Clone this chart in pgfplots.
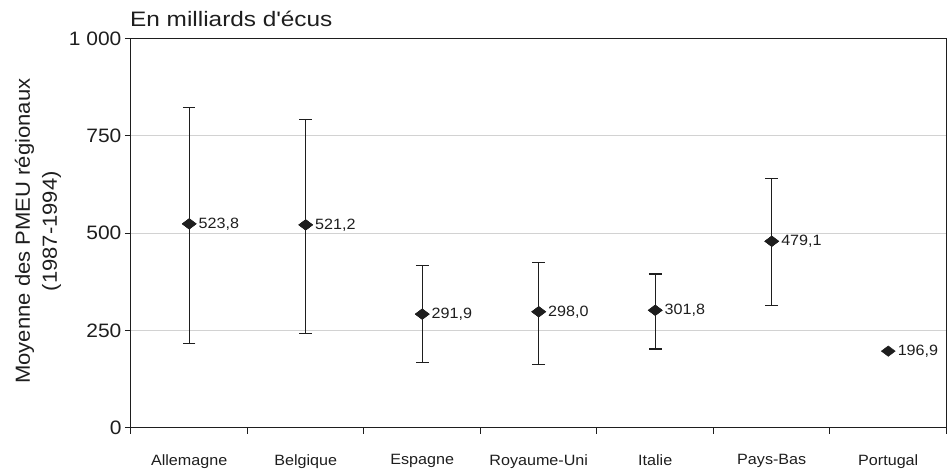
\documentclass[border=0pt]{standalone}
\usepackage{fontspec}
\setmainfont{Liberation Sans}[FakeStretch=1.08]
\usepackage{graphicx}
\usepackage{pgfplots}
\pgfplotsset{compat=1.18}
\usepackage{pgfplotstable}

\pgfplotstableread{
x y ep em lab
0 523.8 298.2 307.8 523,8
1 521.2 270.8 279.2 521,2
2 291.9 125.1 123.9 291,9
3 298.0 127.0 136.0 298,0
4 301.8 93.2 99.8 301,8
5 479.1 161.9 164.1 479,1
}\dataerr
\pgfplotstableread{
x y lab
6 196.9 196,9
}\datapt

\definecolor{txt}{HTML}{1E1E1E}
\definecolor{gridc}{HTML}{D2D2D2}

\begin{document}
\begin{tikzpicture}
\begin{axis}[
  width=816bp, height=389.5bp, scale only axis,
  xmin=-0.5, xmax=6.5, ymin=0, ymax=1000,
  xtick={0,...,6},
  xticklabels={Allemagne,Belgique,Espagne,Royaume-Uni,Italie,Pays-Bas,Portugal},
  minor xtick={-0.5,0.5,...,6.5},
  ytick={0,250,500,750,1000},
  yticklabels={0,250,500,750,1 000},
  xtick pos=bottom, ytick pos=left,
  tick align=outside,
  major x tick style={draw=none},
  major tick length=6bp, minor tick length=6bp,
  tick style={line width=1bp, color=txt},
  axis line style={line width=1bp, color=txt},
  ymajorgrids,
  grid style={color=gridc, line width=1bp},
  yticklabel style={font=\fontsize{19.5}{22}\selectfont, text=txt},
  xticklabel style={font=\fontsize{15}{18}\selectfont, text=txt, yshift=-17bp},
  ylabel={Moyenne des PMEU régionaux\\(1987-1994)},
  every axis y label/.style={at={(axis description cs:-0.114,0.505)}, rotate=90, anchor=center, align=center, font=\fontsize{20.5}{27}\selectfont, text=txt},
  clip=false,
]
\addplot[only marks, mark=diamond*, mark size=7bp,
  mark options={rotate=90, fill=txt, draw=txt},
  error bars/.cd, y dir=both, y explicit,
  error bar style={line width=1bp, color=txt},
  error mark options={rotate=90, line width=1.3bp, color=txt, mark size=6.3bp},
] table[x=x, y=y, y error plus=ep, y error minus=em] {\dataerr};
\addplot[only marks, mark=diamond*, mark size=7bp,
  mark options={rotate=90, fill=txt, draw=txt},
  nodes near coords, point meta=explicit symbolic,
  nodes near coords style={anchor=west, xshift=6bp, font=\fontsize{15}{18}\selectfont, text=txt},
] table[x=x, y=y, meta=lab] {\dataerr};
\addplot[only marks, mark=diamond*, mark size=7bp,
  mark options={rotate=90, fill=txt, draw=txt},
  nodes near coords, point meta=explicit symbolic,
  nodes near coords style={anchor=west, xshift=6bp, font=\fontsize{15}{18}\selectfont, text=txt},
] table[x=x, y=y, meta=lab] {\datapt};
\node[anchor=base west, inner sep=0pt, text=txt, font=\fontsize{21}{24}\selectfont]
  at ([yshift=11.5bp, xshift=-1bp]rel axis cs:0,1) {\scalebox{1.08}[1]{En milliards d\textquotesingle écus}};
\end{axis}
\path ([shift={(-131bp,-38bp)}]current axis.south west) rectangle ([shift={(0bp,38.5bp)}]current axis.north east);
\end{tikzpicture}
\end{document}
